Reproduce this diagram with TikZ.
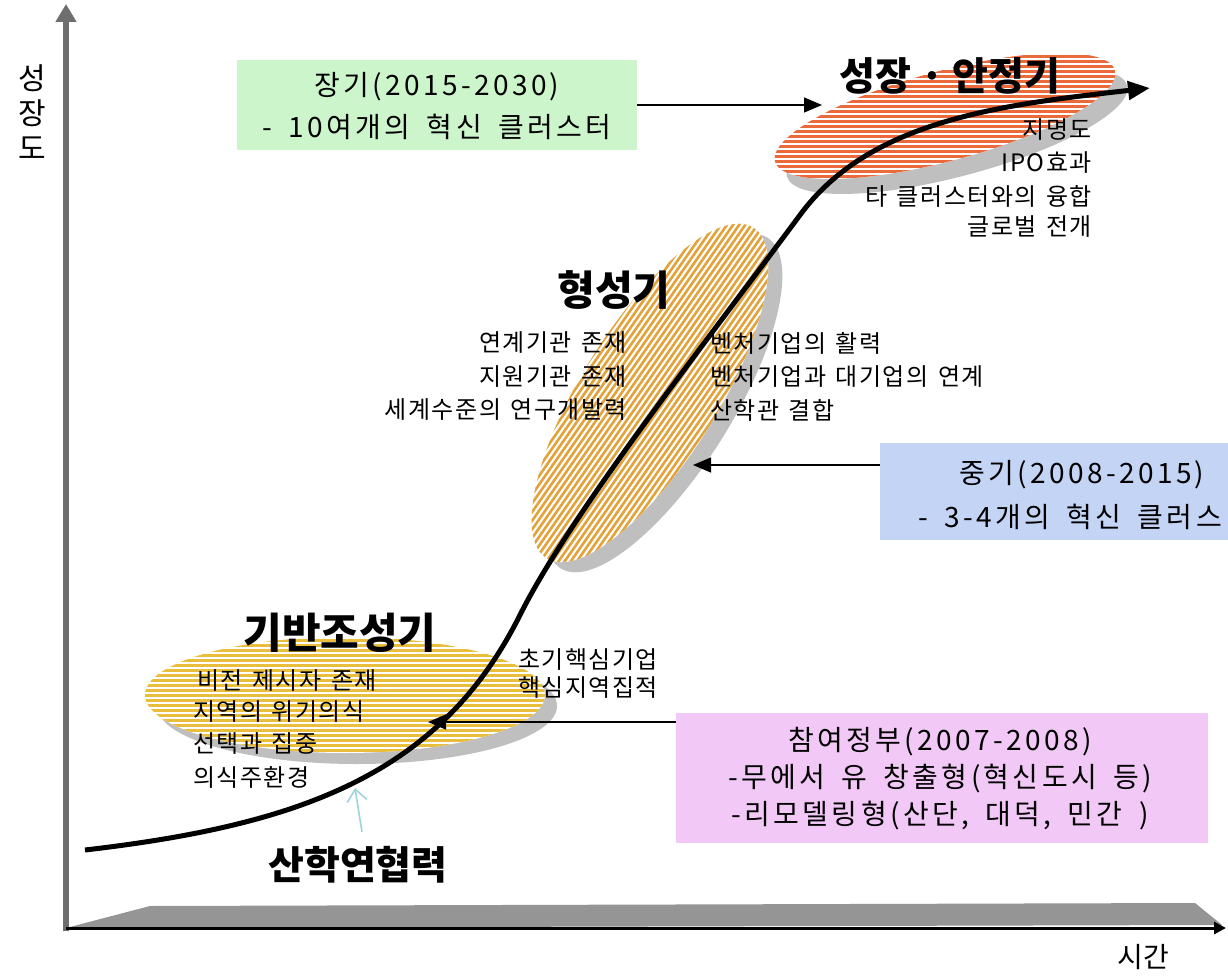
\documentclass[tikz,border=0pt]{standalone}
\usepackage{fontspec}
\setmainfont{Noto Sans CJK KR}
\newfontfamily\krbox{Noto Sans CJK KR}[LetterSpace=12,WordSpace=1.7]
\newfontfamily\krlst{Noto Sans CJK KR}[LetterSpace=6,WordSpace=1.4]
\usetikzlibrary{arrows.meta}
\definecolor{boxgreen}{HTML}{CCF5CC}
\definecolor{boxblue}{HTML}{C4D4F4}
\definecolor{boxpink}{HTML}{F2C8F6}
\definecolor{ylwstripe}{HTML}{E8BE3C}
\definecolor{orgstripe}{HTML}{E2A33C}
\definecolor{redstripe}{HTML}{EB6A3C}
\definecolor{shadowgray}{HTML}{BFBFBF}
\definecolor{axisgray}{HTML}{6E6E6E}
\definecolor{floorgray}{HTML}{959595}
\definecolor{tealarrow}{HTML}{A0D4DC}
\tikzset{
  lst/.style={font=\krlst\fontsize{24}{28}\selectfont, inner sep=0pt},
  ttl/.style={inner sep=0pt},
  boxtxt/.style={font=\krbox\fontsize{28}{42}\selectfont, inner sep=0pt, align=center},
  conn/.style={draw=black, line width=1.3pt, -{Triangle[length=18pt,width=15pt]}},
}
\begin{document}
\begin{tikzpicture}[x=1pt,y=-1pt]
\useasboundingbox (0,0) rectangle (1228,976);
\fill[white] (0,0) rectangle (1228,976);

% shadows
\fill[shadowgray] (357,706) ellipse [x radius=200, y radius=58];
\fill[shadowgray, rotate around={58:(664,403)}] (664,403) ellipse [x radius=195, y radius=68];
\fill[shadowgray, rotate around={15:(957,131)}] (957,131) ellipse [x radius=176, y radius=45];

% yellow ellipse
\begin{scope}
\clip (345,695) ellipse [x radius=200, y radius=58];
\fill[white] (140,630) rectangle (550,760);
\foreach \yy in {635,640,...,760} \draw[ylwstripe, line width=3pt] (140,\yy) -- (550,\yy);
\end{scope}

% orange ellipse
\begin{scope}
\clip[rotate around={58:(650,393)}] (650,393) ellipse [x radius=195, y radius=68];
\fill[white] (430,170) rectangle (870,620);
\foreach \xx in {100,106.1,...,900} \draw[orgstripe, line width=2.6pt] (\xx,650) -- ++(350,-500);
\end{scope}

% red ellipse
\begin{scope}
\clip[rotate around={15:(945,116)}] (945,116) ellipse [x radius=176, y radius=45];
\fill[white] (760,40) rectangle (1130,200);
\foreach \yy in {42,47,...,195} \draw[redstripe, line width=3pt] (760,\yy) -- (1130,\yy);
\end{scope}

% axes
\coordinate (orig) at (66,928);
\coordinate (ytop) at (66,4);
\coordinate (xend) at (1226,928);
\fill[floorgray] (66,928) -- (150,906) -- (1195,903) -- (1222,925) -- cycle;
\draw[axisgray, line width=6pt, -{Triangle[length=18pt,width=20pt]}] (66,931) -- (ytop);
\draw[black, line width=3pt, -{Triangle[length=12pt,width=12pt]}] (orig) -- (xend);

\node[font=\fontsize{30}{35}\selectfont, align=center, inner sep=0pt] (ylab) at (32,112) {성\\장\\도};
\node[font=\fontsize{28}{32}\selectfont, inner sep=0pt] (xlab) at (1143,957) {시간};

% S-curve
\draw[black, line width=5pt, -{Triangle[length=22pt,width=18pt]}]
  (85,850) .. controls (300,825) and (440,775) .. (520,615)
  .. controls (570,515) and (700,350) .. (800,215)
  .. controls (870,120) and (1000,105) .. (1150,88);

% teal arrow
\coordinate (tA) at (362,832);
\coordinate (tB) at (355,788);
\draw[tealarrow, line width=1.6pt, -{Straight Barb[length=12pt,width=20pt]}] (tA) -- (tB);

% boxes
\node[fill=boxgreen, minimum width=400pt, minimum height=90pt, inner sep=0pt] (gbox) at (437,105) {};
\node[boxtxt] (gtxt) at (437,106) {장기(2015-2030)\\- 10여개의 혁신 클러스터};

\node[fill=boxblue, minimum width=360pt, minimum height=97pt, inner sep=0pt, anchor=north west] (bbox) at (880,443) {};
\node[font=\krbox\fontsize{28}{34}\selectfont, inner sep=0pt] (btxt1) at (1082,475) {중기(2008-2015)};
\node[font=\krbox\fontsize{28}{34}\selectfont, inner sep=0pt, anchor=east] (btxt2) at (1222,517) {- 3-4개의 혁신 클러스};

\node[fill=boxpink, minimum width=532pt, minimum height=130pt, inner sep=0pt] (pbox) at (942,778) {};
\node[font=\krbox\fontsize{28}{37}\selectfont, inner sep=0pt, align=center] (ptxt) at (940,779) {참여정부(2007-2008)\\-무에서 유 창출형(혁신도시 등)\\-리모델링형(산단, 대덕, 민간 )};

% connectors
\coordinate (g2) at (822,105);
\coordinate (b2) at (693,465);
\coordinate (p2) at (428,722);
\draw[conn] (gbox.east) -- (g2);
\draw[conn] (bbox.west |- b2) -- (b2);
\draw[conn] (pbox.west |- p2) -- (p2);

% titles
\node[ttl, font=\fontsize{39}{42}\selectfont\bfseries] (t1) at (950,76) {성장 · 안정기};
\node[ttl, font=\fontsize{41}{44}\selectfont\bfseries] (t2) at (614,290) {형성기};
\node[ttl, font=\fontsize{42}{46}\selectfont\bfseries] (t3) at (340,633) {기반조성기};
\node[ttl, font=\fontsize{39}{42}\selectfont\bfseries] (t4) at (358,865) {산학연협력};

% lists
\node[lst, anchor=east] (s1) at (1092,130) {지명도};
\node[lst, anchor=east] (s2) at (1092,163) {IPO효과};
\node[lst, anchor=east] (s3) at (1092,196) {타 클러스터와의 융합};
\node[lst, anchor=east] (s4) at (1092,227) {글로벌 전개};

\node[lst, anchor=east] (f1) at (627,343) {연계기관 존재};
\node[lst, anchor=east] (f2) at (627,377) {지원기관 존재};
\node[lst, anchor=east] (f3) at (627,410) {세계수준의 연구개발력};
\node[lst, anchor=west] (f4) at (710,343) {벤처기업의 활력};
\node[lst, anchor=west] (f5) at (710,377) {벤처기업과 대기업의 연계};
\node[lst, anchor=west] (f6) at (710,410) {산학관 결합};

\node[lst, anchor=west] (c1) at (518,660) {초기핵심기업};
\node[lst, anchor=west] (c2) at (518,688) {핵심지역집적};

\node[lst, anchor=west] (k1) at (197,681) {비전 제시자 존재};
\node[lst, anchor=west] (k2) at (193,712) {지역의 위기의식};
\node[lst, anchor=west] (k3) at (193,744) {선택과 집중};
\node[lst, anchor=west] (k4) at (193,777) {의식주환경};
\end{tikzpicture}
\end{document}
